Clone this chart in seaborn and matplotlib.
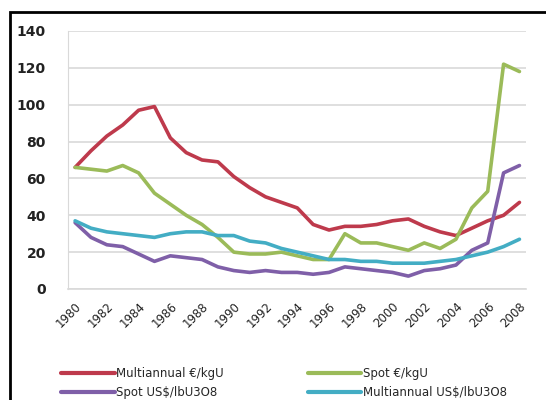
import seaborn as sns
import pandas as pd
import matplotlib.pyplot as plt
from matplotlib.patches import Rectangle

# values
years = list(range(1980, 2009))
multi_eur = [66, 75, 83, 89, 97, 99, 82, 74, 70, 69, 61, 55, 50, 47, 44, 35, 32, 34, 34, 35,
             37, 38, 34, 31, 29, 33, 37, 40, 47]
spot_eur = [66, 65, 64, 67, 63, 52, 46, 40, 35, 28, 20, 19, 19, 20, 18, 16, 16, 30, 25, 25,
            23, 21, 25, 22, 27, 44, 53, 122, 118]
spot_usd = [36, 28, 24, 23, 19, 15, 18, 17, 16, 12, 10, 9, 10, 9, 9, 8, 9, 12, 11, 10,
            9, 7, 10, 11, 13, 21, 25, 63, 67]
multi_usd = [37, 33, 31, 30, 29, 28, 30, 31, 31, 29, 29, 26, 25, 22, 20, 18, 16, 16, 15, 15,
             14, 14, 14, 15, 16, 18, 20, 23, 27]

series_names = ['Multiannual €/kgU', 'Spot €/kgU', 'Spot US$/lbU3O8', 'Multiannual US$/lbU3O8']
colors = ['#BE3A4C', '#9BBB59', '#7F5FA8', '#43ADC4']
xticks = list(range(1980, 2009, 2))
yticks = list(range(0, 141, 20))

df = pd.DataFrame({'year': years,
                   series_names[0]: multi_eur,
                   series_names[1]: spot_eur,
                   series_names[2]: spot_usd,
                   series_names[3]: multi_usd})
long = df.melt(id_vars='year', var_name='series', value_name='price')

sns.set_style('white')
fig = plt.figure(figsize=(5.46, 4.0), dpi=100)
ax = fig.add_axes([0.1245, 0.2775, 0.8385, 0.645])

sns.lineplot(data=long, x='year', y='price', hue='series', hue_order=series_names,
             palette=colors, linewidth=2.6, ax=ax, legend=False)

ax.set_xlim(1979.55, 2008.4)
ax.set_ylim(0, 140)
ax.set_xticks(xticks)
ax.set_xticklabels([str(y) for y in xticks], rotation=45, ha='right', rotation_mode='anchor',
                   fontsize=8.5, color='#222222')
ax.set_yticks(yticks)
ax.set_yticklabels([str(v) for v in yticks], fontsize=10, fontweight='bold', color='#222222')
ax.tick_params(axis='x', pad=8, length=0)
ax.tick_params(axis='y', pad=16, length=0)
ax.yaxis.grid(True, color='#d9d9d9', linewidth=1.2)
ax.set_xlabel('')
ax.set_ylabel('')
for side in ['top', 'right']:
    ax.spines[side].set_visible(False)
ax.spines['left'].set_color('#d9d9d9')
ax.spines['bottom'].set_color('#d9d9d9')
ax.spines['bottom'].set_linewidth(1.2)

# legend in two columns below the plot
handles = [plt.Line2D([0], [0], color=c, linewidth=3) for c in colors]
order = [0, 2, 1, 3]
fig.legend([handles[i] for i in order], [series_names[i] for i in order],
           loc='lower left', bbox_to_anchor=(0.093, -0.025), ncol=2, frameon=False,
           fontsize=8.5, handlelength=4.5, handletextpad=0.1, columnspacing=7.2,
           labelspacing=0.55)

# black frame around the chart area
fig.patches.append(Rectangle((10 / 546, -0.1), 1.2, 1.1 - 12 / 400, transform=fig.transFigure,
                             fill=False, edgecolor='black', linewidth=2))

fig.savefig('out.png', dpi=100)
